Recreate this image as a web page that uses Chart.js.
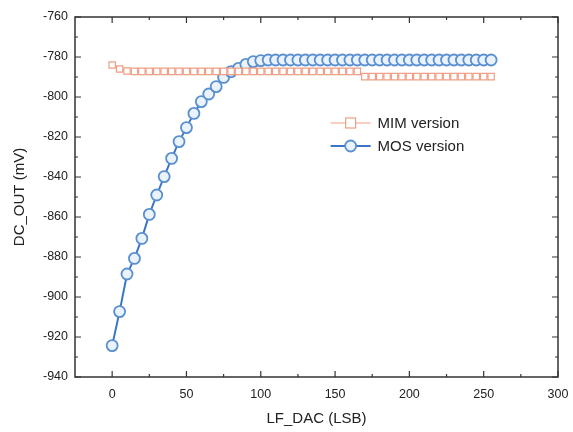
<!DOCTYPE html>
<html><head><meta charset="utf-8">
<script src="https://cdn.jsdelivr.net/npm/chart.js@4"></script>
<style>html,body{margin:0;padding:0;background:#fff}#w{width:573px;height:432px}</style>
</head><body><div id="w"><canvas id="c"></canvas></div>
<script>
const lsb = [0,5,10,15,20,25,30,35,40,45,50,55,60,65,70,75,80,85,90,95,100,105,110,115,120,125,130,135,140,145,150,155,160,165,170,175,180,185,190,195,200,205,210,215,220,225,230,235,240,245,250,255];
const mimVersion = [-784,-786,-787,-787.2,-787.2,-787.2,-787.2,-787.2,-787.2,-787.2,-787.2,-787.2,-787.2,-787.2,-787.2,-787.2,-787.2,-787.2,-787.2,-787.2,-787.2,-787.2,-787.2,-787.2,-787.2,-787.2,-787.2,-787.2,-787.2,-787.2,-787.2,-787.2,-787.2,-787.2,-789.8,-789.8,-789.8,-789.8,-789.8,-789.8,-789.8,-789.8,-789.8,-789.8,-789.8,-789.8,-789.8,-789.8,-789.8,-789.8,-789.8,-789.8];
const mosVersion = [-924.3,-907.3,-888.5,-880.7,-870.7,-858.7,-849,-839.8,-830.7,-822.3,-815.3,-808.2,-802.3,-798.5,-794.8,-790.2,-787.3,-785.7,-783.7,-782.3,-781.8,-781.5,-781.5,-781.5,-781.5,-781.5,-781.5,-781.5,-781.5,-781.5,-781.5,-781.5,-781.5,-781.5,-781.5,-781.5,-781.5,-781.5,-781.5,-781.5,-781.5,-781.5,-781.5,-781.5,-781.5,-781.5,-781.5,-781.5,-781.5,-781.5,-781.5,-781.5];
const xTicks = [0,50,100,150,200,250,300];
const xMinor = [25,75,125,175,225,275];
const yTicks = [-940,-920,-900,-880,-860,-840,-820,-800,-780,-760];
const yMinor = [-930,-910,-890,-870,-850,-830,-810,-790,-770];
const seriesNames = ['MIM version','MOS version'];

const MIM_C = '#ef9f85', MOS_C = '#3b76c6';
const FONT = 'Liberation Sans, Arial, sans-serif';

const frame = {
  id:'frame',
  afterDraw(chart){
    const {ctx, chartArea:a, scales:{x,y}} = chart;
    ctx.save();
    ctx.strokeStyle = '#333'; ctx.lineWidth = 1.5;
    ctx.strokeRect(a.left, a.top, a.right-a.left, a.bottom-a.top);
    ctx.lineWidth = 1.2;
    const tick = (vals, len, isX) => {
      vals.forEach(v=>{
        ctx.beginPath();
        if(isX){ const p = x.getPixelForValue(v);
          ctx.moveTo(p,a.bottom); ctx.lineTo(p,a.bottom-len);
          ctx.moveTo(p,a.top); ctx.lineTo(p,a.top+len);
        } else { const p = y.getPixelForValue(v);
          ctx.moveTo(a.left,p); ctx.lineTo(a.left+len,p);
          ctx.moveTo(a.right,p); ctx.lineTo(a.right-len,p);
        }
        ctx.stroke();
      });
    };
    tick(xTicks,6,true); tick(xMinor,3,true);
    tick(yTicks,6,false); tick(yMinor,3,false);
    // legend
    const lx = x.getPixelForValue(147), ly0 = y.getPixelForValue(-813);
    chart.data.datasets.forEach((ds,i)=>{
      const yy = ly0 + i*23;
      ctx.strokeStyle = ds.borderColor; ctx.lineWidth = ds.borderWidth;
      ctx.beginPath(); ctx.moveTo(lx,yy); ctx.lineTo(lx+40,yy); ctx.stroke();
      ctx.fillStyle = ds.pointBackgroundColor; ctx.lineWidth = ds.pointBorderWidth;
      ctx.strokeStyle = ds.pointBorderColor;
      if(ds.pointStyle==='rect'){
        ctx.fillRect(lx+15,yy-5,10,10); ctx.strokeRect(lx+15,yy-5,10,10);
      } else {
        ctx.beginPath(); ctx.arc(lx+20,yy,5.5,0,Math.PI*2); ctx.fill(); ctx.stroke();
      }
      ctx.fillStyle = '#222'; ctx.font = '15px '+FONT; ctx.textBaseline='middle'; ctx.textAlign='left';
      ctx.fillText(seriesNames[i], lx+47, yy+1);
    });
    ctx.restore();
  }
};

new Chart(document.getElementById('c'), {
  type:'line',
  data:{ datasets:[
    { label:seriesNames[0], data: lsb.map((v,i)=>({x:v,y:mimVersion[i]})),
      borderColor:MIM_C, borderWidth:1.2, pointStyle:'rect', pointRadius:4.5,
      pointBackgroundColor:'#fff', pointBorderColor:MIM_C, pointBorderWidth:1.2, tension:0 },
    { label:seriesNames[1], data: lsb.map((v,i)=>({x:v,y:mosVersion[i]})),
      borderColor:MOS_C, borderWidth:2, pointStyle:'circle', pointRadius:5.5,
      pointBackgroundColor:'#eaf3fb', pointBorderColor:'#5a8fd0', pointBorderWidth:1.8, tension:0 }
  ]},
  options:{
    responsive:true, maintainAspectRatio:false, animation:false,
    layout:{padding:{left:0,right:15,top:17,bottom:0}},
    plugins:{legend:{display:false}, tooltip:{enabled:false}},
    scales:{
      x:{ type:'linear', min:-25, max:300,
        afterBuildTicks(s){ s.ticks = xTicks.map(v=>({value:v})); },
        afterFit(s){ s.height = 55; s.paddingRight = 0; s.paddingLeft = 0; },
        grid:{display:false, drawTicks:false}, border:{display:false},
        ticks:{ color:'#222', font:{family:FONT,size:12.5}, padding:10, maxRotation:0 },
        title:{display:true, text:'LF_DAC (LSB)', color:'#222', font:{family:FONT,size:15}, padding:{top:6}}
      },
      y:{ min:-940, max:-760,
        afterBuildTicks(s){ s.ticks = yTicks.map(v=>({value:v})); },
        afterFit(s){ s.width = 75; s.paddingTop = 0; s.paddingBottom = 0; },
        grid:{display:false, drawTicks:false}, border:{display:false},
        ticks:{ color:'#222', font:{family:FONT,size:12.5}, padding:7 },
        title:{display:true, text:'DC_OUT (mV)', color:'#222', font:{family:FONT,size:15}, padding:{top:11,bottom:0}}
      }
    }
  },
  plugins:[frame]
});
</script></body></html>
